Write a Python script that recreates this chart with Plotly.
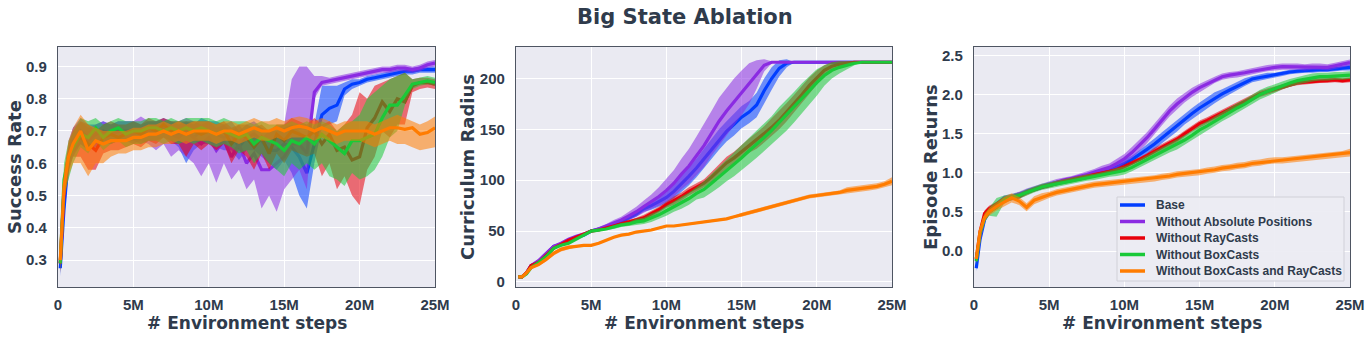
import plotly.graph_objects as go

# training progress in millions of environment steps
STEPS = [0.15, 0.4, 0.7, 1.0, 1.5,
         2.0, 2.5, 3.0, 3.5, 4.0,
         4.5, 5.0, 5.5, 6.0, 6.5,
         7.0, 7.5, 8.0, 8.5, 9.0,
         9.5, 10.0, 10.5, 11.0, 11.5,
         12.0, 12.5, 13.0, 13.5, 14.0,
         14.5, 15.0, 15.5, 16.0, 16.5,
         17.0, 17.5, 18.0, 18.5, 19.0,
         19.5, 20.0, 20.5, 21.0, 21.5,
         22.0, 22.5, 23.0, 23.5, 24.0,
         24.5, 25.0]

NAMES = ["Base", "Without Absolute Positions", "Without RayCasts",
         "Without BoxCasts", "Without BoxCasts and RayCasts"]
COLORS = ["#023EFF", "#8B2BE2", "#E8000B", "#1AC938", "#FF7C00"]

X_TICKS = [0, 5, 10, 15, 20, 25]
X_TICK_TEXT = ["0", "5M", "10M", "15M", "20M", "25M"]

# --- Success Rate (mean, lower, upper) ---
SR_BASE = [0.275, 0.46, 0.62, 0.66, 0.70, 0.68, 0.69, 0.70, 0.69, 0.70,
           0.70, 0.70, 0.69, 0.70, 0.70, 0.71, 0.70, 0.69, 0.70, 0.68,
           0.70, 0.70, 0.69, 0.68, 0.69, 0.65, 0.68, 0.69, 0.67, 0.64,
           0.64, 0.66, 0.65, 0.62, 0.57, 0.66, 0.75, 0.77, 0.78, 0.83,
           0.845, 0.85, 0.86, 0.865, 0.87, 0.875, 0.88, 0.885, 0.885, 0.89,
           0.89, 0.89]
SR_BASE_LO = [0.25, 0.42, 0.58, 0.62, 0.66, 0.64, 0.65, 0.66, 0.66, 0.67,
              0.67, 0.67, 0.66, 0.67, 0.67, 0.68, 0.67, 0.65, 0.60, 0.64,
              0.66, 0.66, 0.65, 0.64, 0.64, 0.61, 0.64, 0.64, 0.62, 0.60,
              0.58, 0.61, 0.57, 0.50, 0.46, 0.60, 0.71, 0.72, 0.73, 0.81,
              0.83, 0.84, 0.85, 0.855, 0.86, 0.865, 0.87, 0.875, 0.875, 0.88,
              0.88, 0.88]
SR_BASE_HI = [0.30, 0.50, 0.66, 0.71, 0.74, 0.72, 0.72, 0.73, 0.72, 0.73,
              0.73, 0.73, 0.72, 0.73, 0.73, 0.74, 0.73, 0.72, 0.73, 0.72,
              0.74, 0.73, 0.73, 0.72, 0.73, 0.70, 0.72, 0.73, 0.71, 0.70,
              0.70, 0.71, 0.72, 0.70, 0.68, 0.72, 0.84, 0.84, 0.84, 0.85,
              0.86, 0.86, 0.87, 0.875, 0.88, 0.885, 0.89, 0.895, 0.895, 0.90,
              0.90, 0.90]

SR_NOPOS = [0.29, 0.52, 0.63, 0.67, 0.69, 0.67, 0.69, 0.70, 0.69, 0.70,
            0.70, 0.69, 0.70, 0.70, 0.69, 0.70, 0.69, 0.68, 0.70, 0.68,
            0.66, 0.68, 0.64, 0.67, 0.62, 0.66, 0.60, 0.63, 0.58, 0.58,
            0.60, 0.62, 0.66, 0.66, 0.63, 0.82, 0.85, 0.855, 0.86, 0.865,
            0.87, 0.875, 0.88, 0.885, 0.89, 0.89, 0.895, 0.895, 0.89, 0.895,
            0.905, 0.91]
SR_NOPOS_LO = [0.26, 0.48, 0.59, 0.63, 0.66, 0.64, 0.66, 0.67, 0.66, 0.67,
               0.67, 0.66, 0.67, 0.66, 0.64, 0.66, 0.62, 0.64, 0.62, 0.60,
               0.56, 0.60, 0.54, 0.60, 0.55, 0.58, 0.52, 0.55, 0.46, 0.50,
               0.45, 0.52, 0.55, 0.58, 0.52, 0.80, 0.84, 0.845, 0.85, 0.855,
               0.86, 0.865, 0.87, 0.875, 0.88, 0.88, 0.885, 0.885, 0.88, 0.885,
               0.895, 0.90]
SR_NOPOS_HI = [0.32, 0.56, 0.67, 0.71, 0.73, 0.71, 0.72, 0.73, 0.72, 0.73,
               0.73, 0.73, 0.745, 0.73, 0.73, 0.73, 0.73, 0.73, 0.74, 0.73,
               0.72, 0.73, 0.71, 0.72, 0.70, 0.72, 0.69, 0.70, 0.68, 0.70,
               0.71, 0.72, 0.86, 0.90, 0.90, 0.87, 0.87, 0.865, 0.87, 0.875,
               0.88, 0.885, 0.89, 0.895, 0.90, 0.90, 0.905, 0.905, 0.90, 0.905,
               0.915, 0.92]

SR_NORAY = [0.29, 0.52, 0.62, 0.66, 0.68, 0.66, 0.64, 0.68, 0.69, 0.68,
            0.69, 0.70, 0.69, 0.71, 0.70, 0.72, 0.70, 0.70, 0.69, 0.70,
            0.69, 0.70, 0.69, 0.70, 0.66, 0.69, 0.68, 0.65, 0.68, 0.63,
            0.69, 0.67, 0.70, 0.69, 0.68, 0.70, 0.66, 0.69, 0.64, 0.65,
            0.61, 0.62, 0.71, 0.74, 0.79, 0.76, 0.80, 0.79, 0.84, 0.85,
            0.85, 0.845]
SR_NORAY_LO = [0.26, 0.48, 0.57, 0.62, 0.62, 0.58, 0.58, 0.63, 0.64, 0.64,
               0.65, 0.66, 0.65, 0.67, 0.66, 0.68, 0.66, 0.66, 0.62, 0.66,
               0.64, 0.66, 0.64, 0.66, 0.60, 0.64, 0.62, 0.58, 0.63, 0.58,
               0.63, 0.60, 0.64, 0.63, 0.62, 0.63, 0.56, 0.60, 0.52, 0.56,
               0.50, 0.47, 0.58, 0.62, 0.70, 0.68, 0.72, 0.72, 0.82, 0.83,
               0.835, 0.83]
SR_NORAY_HI = [0.32, 0.56, 0.66, 0.70, 0.73, 0.72, 0.70, 0.72, 0.73, 0.72,
               0.72, 0.73, 0.72, 0.74, 0.73, 0.74, 0.73, 0.73, 0.73, 0.73,
               0.73, 0.73, 0.72, 0.73, 0.71, 0.72, 0.72, 0.71, 0.72, 0.70,
               0.72, 0.72, 0.74, 0.73, 0.72, 0.74, 0.72, 0.73, 0.70, 0.72,
               0.75, 0.82, 0.80, 0.84, 0.85, 0.86, 0.87, 0.88, 0.86, 0.865,
               0.865, 0.86]

SR_NOBOX = [0.29, 0.55, 0.62, 0.65, 0.69, 0.68, 0.71, 0.68, 0.70, 0.71,
            0.69, 0.70, 0.70, 0.71, 0.71, 0.70, 0.71, 0.70, 0.71, 0.70,
            0.71, 0.70, 0.69, 0.70, 0.69, 0.68, 0.69, 0.66, 0.68, 0.67,
            0.66, 0.64, 0.67, 0.66, 0.68, 0.66, 0.69, 0.67, 0.65, 0.63,
            0.67, 0.67, 0.68, 0.69, 0.74, 0.78, 0.78, 0.81, 0.845, 0.85,
            0.855, 0.85]
SR_NOBOX_LO = [0.26, 0.50, 0.55, 0.60, 0.65, 0.63, 0.67, 0.64, 0.66, 0.67,
               0.65, 0.66, 0.66, 0.67, 0.67, 0.66, 0.67, 0.66, 0.67, 0.66,
               0.67, 0.66, 0.65, 0.66, 0.65, 0.63, 0.64, 0.60, 0.63, 0.60,
               0.58, 0.56, 0.60, 0.58, 0.60, 0.58, 0.60, 0.56, 0.55, 0.53,
               0.57, 0.55, 0.56, 0.58, 0.62, 0.68, 0.70, 0.78, 0.83, 0.84,
               0.845, 0.84]
SR_NOBOX_HI = [0.32, 0.60, 0.67, 0.70, 0.74, 0.73, 0.74, 0.72, 0.73, 0.74,
               0.73, 0.73, 0.73, 0.74, 0.74, 0.73, 0.74, 0.73, 0.74, 0.74,
               0.74, 0.74, 0.73, 0.74, 0.73, 0.73, 0.73, 0.72, 0.73, 0.72,
               0.72, 0.72, 0.73, 0.72, 0.73, 0.72, 0.73, 0.72, 0.70, 0.72,
               0.73, 0.75, 0.80, 0.82, 0.84, 0.86, 0.87, 0.88, 0.86, 0.865,
               0.87, 0.865]

SR_NOBOTH = [0.30, 0.53, 0.62, 0.66, 0.70, 0.64, 0.67, 0.66, 0.67, 0.67,
             0.67, 0.68, 0.68, 0.69, 0.69, 0.70, 0.69, 0.70, 0.69, 0.70,
             0.70, 0.70, 0.69, 0.70, 0.70, 0.69, 0.70, 0.71, 0.70, 0.70,
             0.71, 0.70, 0.71, 0.715, 0.71, 0.70, 0.71, 0.70, 0.69, 0.70,
             0.70, 0.70, 0.70, 0.69, 0.70, 0.71, 0.71, 0.705, 0.71, 0.69,
             0.695, 0.71]
SR_NOBOTH_LO = [0.27, 0.48, 0.56, 0.60, 0.60, 0.56, 0.60, 0.60, 0.62, 0.63,
                0.63, 0.64, 0.64, 0.65, 0.65, 0.66, 0.66, 0.67, 0.66, 0.67,
                0.67, 0.67, 0.66, 0.67, 0.67, 0.66, 0.67, 0.68, 0.67, 0.67,
                0.68, 0.67, 0.68, 0.68, 0.68, 0.67, 0.68, 0.67, 0.66, 0.67,
                0.67, 0.67, 0.66, 0.65, 0.66, 0.67, 0.66, 0.66, 0.65, 0.64,
                0.645, 0.65]
SR_NOBOTH_HI = [0.33, 0.58, 0.67, 0.71, 0.75, 0.72, 0.71, 0.70, 0.70, 0.70,
                0.70, 0.71, 0.71, 0.72, 0.72, 0.73, 0.72, 0.73, 0.72, 0.73,
                0.73, 0.73, 0.72, 0.73, 0.73, 0.72, 0.73, 0.74, 0.73, 0.73,
                0.74, 0.73, 0.74, 0.745, 0.74, 0.73, 0.74, 0.73, 0.72, 0.73,
                0.73, 0.73, 0.73, 0.72, 0.73, 0.74, 0.75, 0.74, 0.73, 0.72,
                0.73, 0.745]

# --- Curriculum Radius (mean, spread) ---
CR_BASE = [5, 5, 9, 16, 20, 27, 35, 37, 41, 44,
           46, 50, 52, 54, 56, 59, 63, 67, 72, 75,
           79, 83, 89, 96, 104, 112, 121, 131, 140, 148,
           155, 162, 167, 174, 188, 200, 210, 215, 216, 216,
           216, 216, 216, 216, 216, 216, 216, 216, 216, 216,
           216, 216]
CR_BASE_SD = [0, 0, 1, 1, 1, 1, 1, 1, 1, 1,
              1, 1, 1, 1, 2, 2, 2, 3, 3, 4,
              5, 6, 7, 8, 9, 9, 10, 10, 10, 10,
              11, 11, 11, 12, 12, 11, 8, 4, 0, 0,
              0, 0, 0, 0, 0, 0, 0, 0, 0, 0,
              0, 0]
CR_NOPOS = [5, 5, 9, 16, 21, 28, 35, 38, 42, 45,
            47, 50, 52, 55, 58, 61, 65, 69, 74, 79,
            84, 90, 97, 106, 114, 124, 134, 146, 158, 168,
            177, 186, 195, 204, 213, 216, 216, 216, 216, 216,
            216, 216, 216, 216, 216, 216, 216, 216, 216, 216,
            216, 216]
CR_NOPOS_SD = [0, 0, 1, 1, 1, 1, 1, 1, 1, 1,
               1, 1, 2, 2, 3, 3, 4, 5, 6, 7,
               9, 11, 13, 15, 17, 19, 21, 22, 23, 23,
               23, 22, 20, 14, 6, 1, 0, 0, 0, 0,
               0, 0, 0, 0, 0, 0, 0, 0, 0, 0,
               0, 0]
CR_NORAY = [5, 5, 9, 16, 19, 26, 33, 37, 41, 44,
            47, 50, 51, 53, 55, 57, 59, 61, 63, 67,
            71, 76, 80, 84, 89, 93, 97, 103, 110, 117,
            122, 128, 134, 139, 145, 152, 159, 167, 175, 184,
            193, 201, 208, 212, 214, 215, 216, 216, 216, 216,
            216, 216]
CR_NORAY_SD = [0, 0, 1, 1, 1, 1, 1, 1, 1, 1,
               1, 1, 1, 1, 1, 2, 2, 2, 3, 3,
               3, 3, 4, 4, 4, 4, 4, 5, 5, 6,
               6, 7, 7, 8, 8, 9, 9, 9, 9, 9,
               8, 7, 5, 4, 3, 2, 1, 0, 0, 0,
               0, 0]
CR_NOBOX = [5, 5, 8, 14, 19, 25, 33, 36, 38, 42,
            46, 50, 51, 52, 54, 56, 57, 59, 60, 63,
            66, 70, 74, 78, 82, 87, 91, 97, 103, 110,
            116, 122, 129, 135, 142, 149, 157, 164, 172, 180,
            188, 196, 203, 208, 211, 213, 215, 216, 216, 216,
            216, 216]
CR_NOBOX_SD = [0, 0, 1, 1, 1, 1, 1, 1, 1, 1,
               1, 1, 1, 1, 2, 2, 2, 3, 3, 4,
               4, 5, 5, 6, 6, 6, 8, 9, 10, 11,
               12, 12, 13, 13, 14, 14, 15, 15, 15, 15,
               14, 13, 10, 8, 6, 4, 2, 0, 0, 0,
               0, 0]
CR_NOBOTH = [5, 5, 9, 14, 17, 22, 28, 32, 34, 35,
             36, 36, 38, 41, 44, 46, 47, 49, 50, 51,
             53, 55, 55, 56, 57, 58, 59, 60, 61, 62,
             64, 66, 68, 70, 72, 74, 76, 78, 80, 82,
             84, 85, 86, 87, 88, 90, 91, 92, 93, 94,
             96, 99]
CR_NOBOTH_SD = [0, 0, 1, 1, 1, 2, 2, 2, 2, 1,
                1, 1, 1, 1, 1, 1, 1, 1, 1, 1,
                1, 1, 1, 1, 1, 1, 1, 1, 1, 1,
                1, 2, 2, 2, 2, 2, 2, 2, 2, 2,
                2, 2, 2, 2, 2, 3, 3, 3, 3, 3,
                3, 4]

# --- Episode Returns (mean, spread) ---
ER_BASE = [-0.22, 0.15, 0.40, 0.50, 0.58, 0.66, 0.68, 0.70, 0.76, 0.79,
           0.82, 0.85, 0.87, 0.89, 0.91, 0.93, 0.95, 0.97, 1.00, 1.03,
           1.07, 1.12, 1.17, 1.23, 1.30, 1.37, 1.45, 1.53, 1.60, 1.69,
           1.76, 1.83, 1.89, 1.96, 2.01, 2.06, 2.11, 2.16, 2.20, 2.22,
           2.24, 2.25, 2.27, 2.29, 2.30, 2.31, 2.31, 2.32, 2.32, 2.33,
           2.34, 2.35]
ER_BASE_SD = [0.04, 0.04, 0.03, 0.03, 0.03, 0.03, 0.03, 0.03, 0.03, 0.03,
              0.03, 0.03, 0.03, 0.03, 0.03, 0.03, 0.03, 0.03, 0.03, 0.04,
              0.04, 0.05, 0.05, 0.06, 0.06, 0.07, 0.07, 0.07, 0.07, 0.07,
              0.07, 0.07, 0.07, 0.07, 0.06, 0.06, 0.05, 0.05, 0.04, 0.04,
              0.04, 0.03, 0.03, 0.03, 0.03, 0.03, 0.03, 0.03, 0.03, 0.03,
              0.03, 0.04]
ER_NOPOS = [-0.12, 0.20, 0.42, 0.52, 0.60, 0.68, 0.70, 0.73, 0.77, 0.80,
            0.83, 0.86, 0.89, 0.91, 0.93, 0.95, 0.98, 1.01, 1.04, 1.07,
            1.12, 1.18, 1.26, 1.35, 1.45, 1.56, 1.68, 1.79, 1.88, 1.96,
            2.03, 2.09, 2.14, 2.19, 2.23, 2.25, 2.26, 2.28, 2.30, 2.32,
            2.34, 2.35, 2.36, 2.36, 2.36, 2.35, 2.36, 2.36, 2.35, 2.37,
            2.39, 2.41]
ER_NOPOS_SD = [0.04, 0.04, 0.03, 0.03, 0.03, 0.03, 0.03, 0.03, 0.03, 0.03,
               0.03, 0.03, 0.03, 0.03, 0.03, 0.04, 0.04, 0.04, 0.05, 0.05,
               0.06, 0.06, 0.07, 0.07, 0.07, 0.07, 0.07, 0.07, 0.07, 0.06,
               0.06, 0.05, 0.05, 0.04, 0.04, 0.04, 0.04, 0.04, 0.04, 0.04,
               0.04, 0.04, 0.04, 0.04, 0.04, 0.04, 0.04, 0.04, 0.04, 0.04,
               0.04, 0.04]
ER_NORAY = [-0.10, 0.25, 0.48, 0.54, 0.60, 0.66, 0.68, 0.70, 0.75, 0.79,
            0.82, 0.84, 0.87, 0.89, 0.91, 0.93, 0.95, 0.97, 0.99, 1.01,
            1.04, 1.08, 1.12, 1.17, 1.22, 1.28, 1.33, 1.38, 1.43, 1.50,
            1.57, 1.63, 1.67, 1.72, 1.76, 1.82, 1.87, 1.92, 1.96, 2.01,
            2.04, 2.07, 2.10, 2.13, 2.15, 2.16, 2.17, 2.18, 2.18, 2.19,
            2.18, 2.19]
ER_NORAY_SD = [0.04, 0.04, 0.04, 0.04, 0.03, 0.03, 0.03, 0.03, 0.03, 0.03,
               0.03, 0.03, 0.03, 0.03, 0.03, 0.03, 0.03, 0.03, 0.03, 0.03,
               0.03, 0.03, 0.03, 0.03, 0.03, 0.04, 0.04, 0.04, 0.04, 0.04,
               0.04, 0.04, 0.04, 0.04, 0.04, 0.04, 0.04, 0.04, 0.04, 0.04,
               0.04, 0.04, 0.04, 0.03, 0.03, 0.03, 0.03, 0.03, 0.03, 0.03,
               0.03, 0.03]
ER_NOBOX = [-0.13, 0.22, 0.42, 0.50, 0.56, 0.66, 0.69, 0.71, 0.75, 0.79,
            0.82, 0.84, 0.86, 0.88, 0.90, 0.92, 0.94, 0.95, 0.97, 0.99,
            1.01, 1.03, 1.07, 1.12, 1.17, 1.22, 1.27, 1.32, 1.36, 1.42,
            1.48, 1.55, 1.60, 1.66, 1.72, 1.77, 1.83, 1.88, 1.94, 2.00,
            2.04, 2.08, 2.12, 2.15, 2.18, 2.20, 2.22, 2.23, 2.23, 2.24,
            2.24, 2.25]
ER_NOBOX_SD = [0.05, 0.05, 0.05, 0.05, 0.12, 0.05, 0.04, 0.04, 0.04, 0.04,
               0.04, 0.04, 0.04, 0.04, 0.04, 0.04, 0.04, 0.04, 0.04, 0.04,
               0.05, 0.05, 0.05, 0.05, 0.06, 0.06, 0.06, 0.06, 0.06, 0.06,
               0.06, 0.06, 0.06, 0.06, 0.06, 0.06, 0.06, 0.06, 0.06, 0.06,
               0.06, 0.06, 0.05, 0.05, 0.05, 0.05, 0.05, 0.05, 0.05, 0.05,
               0.05, 0.05]
ER_NOBOTH = [-0.10, 0.25, 0.43, 0.50, 0.57, 0.63, 0.68, 0.64, 0.56, 0.65,
             0.69, 0.72, 0.75, 0.77, 0.79, 0.81, 0.83, 0.85, 0.86, 0.87,
             0.88, 0.89, 0.90, 0.91, 0.92, 0.93, 0.95, 0.96, 0.98, 0.99,
             1.00, 1.01, 1.03, 1.04, 1.06, 1.07, 1.09, 1.10, 1.12, 1.13,
             1.15, 1.16, 1.16, 1.17, 1.18, 1.19, 1.20, 1.21, 1.22, 1.23,
             1.24, 1.26]
ER_NOBOTH_SD = [0.05, 0.05, 0.05, 0.05, 0.05, 0.06, 0.06, 0.05, 0.05, 0.05,
                0.05, 0.04, 0.04, 0.04, 0.04, 0.04, 0.04, 0.04, 0.04, 0.04,
                0.04, 0.04, 0.04, 0.04, 0.04, 0.04, 0.04, 0.04, 0.04, 0.04,
                0.04, 0.04, 0.04, 0.04, 0.04, 0.04, 0.04, 0.04, 0.04, 0.04,
                0.04, 0.04, 0.04, 0.04, 0.04, 0.04, 0.04, 0.04, 0.04, 0.04,
                0.04, 0.05]

TEXT = "#2F3B4C"
BG = "#EAEAF2"
TITLE_FONT = "DejaVu Sans"
TICK_FONT = "Liberation Sans Narrow, Liberation Sans, Arial, sans-serif"
LEGEND_FONT = "Liberation Sans, Arial, sans-serif"

W, H = 1370, 340


def px_x(x):
    return x / W


def px_y(y):
    return 1 - y / H


def rgba(hex_color, alpha):
    h = hex_color.lstrip("#")
    r, g, b = int(h[0:2], 16), int(h[2:4], 16), int(h[4:6], 16)
    return f"rgba({r},{g},{b},{alpha})"


def add_series(fig, axis_id, mean, lo, hi, idx):
    xa, ya = f"x{axis_id}", f"y{axis_id}"
    color = COLORS[idx]
    fig.add_trace(go.Scatter(
        x=STEPS + STEPS[::-1], y=hi + lo[::-1],
        fill="toself", fillcolor=rgba(color, 0.55),
        line={"width": 0}, mode="lines", hoverinfo="skip",
        showlegend=False, xaxis=xa, yaxis=ya,
    ))
    fig.add_trace(go.Scatter(
        x=STEPS, y=mean, mode="lines", name=NAMES[idx],
        line={"color": color, "width": 3.2},
        showlegend=False, xaxis=xa, yaxis=ya,
    ))


fig = go.Figure()

sr = [(SR_BASE, SR_BASE_LO, SR_BASE_HI), (SR_NOPOS, SR_NOPOS_LO, SR_NOPOS_HI),
      (SR_NORAY, SR_NORAY_LO, SR_NORAY_HI), (SR_NOBOX, SR_NOBOX_LO, SR_NOBOX_HI),
      (SR_NOBOTH, SR_NOBOTH_LO, SR_NOBOTH_HI)]
for i, (m, lo, hi) in enumerate(sr):
    add_series(fig, "", m, lo, hi, i)

cr = [(CR_BASE, CR_BASE_SD), (CR_NOPOS, CR_NOPOS_SD), (CR_NORAY, CR_NORAY_SD),
      (CR_NOBOX, CR_NOBOX_SD), (CR_NOBOTH, CR_NOBOTH_SD)]
for i, (m, sd) in enumerate(cr):
    lo = [a - b for a, b in zip(m, sd)]
    hi = [a + b for a, b in zip(m, sd)]
    add_series(fig, "2", m, lo, hi, i)

er = [(ER_BASE, ER_BASE_SD), (ER_NOPOS, ER_NOPOS_SD), (ER_NORAY, ER_NORAY_SD),
      (ER_NOBOX, ER_NOBOX_SD), (ER_NOBOTH, ER_NOBOTH_SD)]
for i, (m, sd) in enumerate(er):
    lo = [a - b for a, b in zip(m, sd)]
    hi = [a + b for a, b in zip(m, sd)]
    add_series(fig, "3", m, lo, hi, i)

x_domains = [(px_x(58), px_x(435)), (px_x(516), px_x(892)), (px_x(974), px_x(1350))]
y_domain = (px_y(287), px_y(47))
y_ranges = [(0.217, 0.96), (-5, 231), (-0.46, 2.61)]
y_ticks = [[0.3, 0.4, 0.5, 0.6, 0.7, 0.8, 0.9], [0, 50, 100, 150, 200],
           [0, 0.5, 1.0, 1.5, 2.0, 2.5]]
y_formats = [".1f", "d", ".1f"]
y_titles = ["Success Rate", "Curriculum Radius", "Episode Returns"]
y_title_x = [14, 467, 930]

axis_common = dict(
    showgrid=True, gridcolor="white", gridwidth=1.4, zeroline=False,
    showline=True, linecolor="#4E5562", linewidth=1.3, mirror=True,
    ticks="", automargin=False,
    tickfont={"family": TICK_FONT, "size": 15, "color": TEXT, "weight": "bold"},
)

layout = {}
annotations = []
shapes = []
for k in range(3):
    suffix = "" if k == 0 else str(k + 1)
    layout[f"xaxis{suffix}"] = dict(
        axis_common, domain=list(x_domains[k]), range=[0, 25],
        tickvals=X_TICKS, ticktext=X_TICK_TEXT, anchor=f"y{suffix}",
        ticklabelstandoff=4,
    )
    layout[f"yaxis{suffix}"] = dict(
        axis_common, domain=list(y_domain), range=list(y_ranges[k]),
        tickvals=y_ticks[k], tickformat=y_formats[k], anchor=f"x{suffix}",
        ticklabelstandoff=7,
    )
    cx = (x_domains[k][0] + x_domains[k][1]) / 2
    annotations.append(dict(
        text="# Environment steps", x=cx, y=px_y(323), xref="paper", yref="paper",
        showarrow=False, xanchor="center", yanchor="middle",
        font={"family": TITLE_FONT, "size": 17, "color": TEXT, "weight": "bold"},
    ))
    annotations.append(dict(
        text=y_titles[k], x=px_x(y_title_x[k]), y=px_y(167), xref="paper", yref="paper",
        showarrow=False, xanchor="center", yanchor="middle", textangle=-90,
        font={"family": TITLE_FONT, "size": 18, "color": TEXT, "weight": "bold"},
    ))

annotations.append(dict(
    text="Big State Ablation", x=px_x(685), y=px_y(17), xref="paper", yref="paper",
    showarrow=False, xanchor="center", yanchor="middle",
    font={"family": TITLE_FONT, "size": 21, "color": TEXT, "weight": "bold"},
))

# legend box drawn inside the third panel (matplotlib-style, tight rows)
LEG_LEFT, LEG_RIGHT, LEG_TOP, LEG_BOTTOM = 1117, 1344, 197, 281
LEG_ROWS = [205, 221.5, 238, 254.5, 271]
shapes.append(dict(
    type="rect", xref="paper", yref="paper",
    x0=px_x(LEG_LEFT), x1=px_x(LEG_RIGHT), y0=px_y(LEG_BOTTOM), y1=px_y(LEG_TOP),
    fillcolor="rgba(236,236,243,0.92)", line={"color": "#D0D0D8", "width": 1},
    layer="above",
))
for i, yrow in enumerate(LEG_ROWS):
    shapes.append(dict(
        type="line", xref="paper", yref="paper",
        x0=px_x(1120), x1=px_x(1145), y0=px_y(yrow), y1=px_y(yrow),
        line={"color": COLORS[i], "width": 3.5}, layer="above",
    ))
    annotations.append(dict(
        text=NAMES[i], x=px_x(1154), y=px_y(yrow), xref="paper", yref="paper",
        showarrow=False, xanchor="left", yanchor="middle",
        font={"family": LEGEND_FONT, "size": 12, "color": TEXT, "weight": "bold"},
    ))

fig.update_layout(
    width=W, height=H,
    margin={"l": 0, "r": 0, "t": 0, "b": 0},
    paper_bgcolor="white", plot_bgcolor=BG,
    annotations=annotations, shapes=shapes,
    showlegend=False,
    **layout,
)

# drop the browser's default body margin so the figure sits at the page origin
fig.write_html(
    "out.html",
    config={"displayModeBar": False},
    post_script="document.body.style.margin = '0';",
)
